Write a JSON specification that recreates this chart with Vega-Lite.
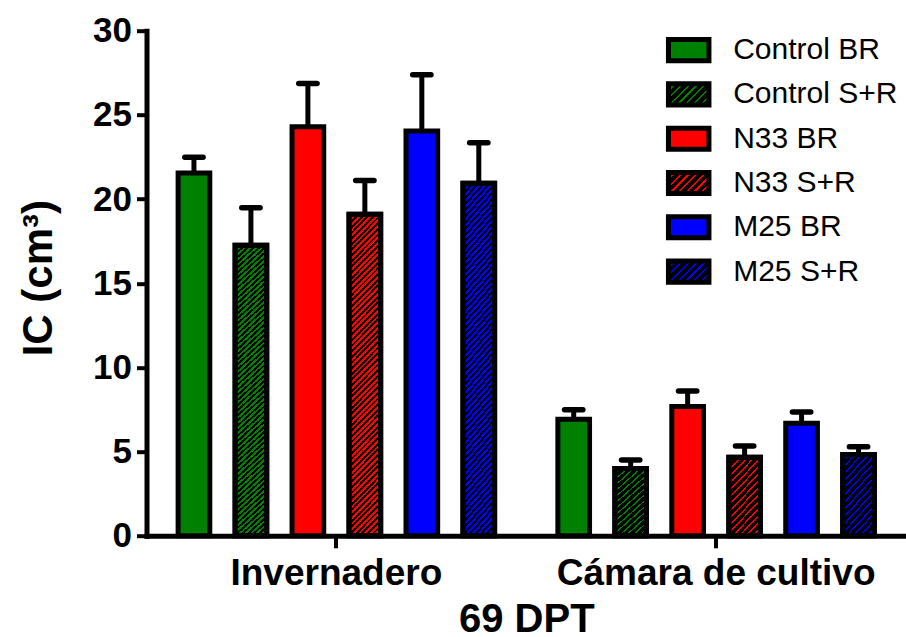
{
  "$schema": "https://vega.github.io/schema/vega-lite/v6.json",
  "width": 759.5,
  "height": 505.1,
  "autosize": "none",
  "padding": {"left": 146.5, "top": 30.7, "right": 0, "bottom": 101.2},
  "background": "white",
  "config": {
    "view": {"stroke": null},
    "font": "Liberation Sans",
    "axis": {
      "grid": false,
      "domainColor": "black",
      "domainWidth": 5,
      "domainCap": "square",
      "tickColor": "black",
      "tickWidth": 4,
      "labelFont": "Liberation Sans",
      "labelFontWeight": "bold",
      "labelColor": "black",
      "labelLimit": 500,
      "titleFont": "Liberation Sans",
      "titleFontWeight": "bold",
      "titleColor": "black"
    }
  },
  "data": {
    "values": [
      {"site": "Invernadero", "inoc": "Control", "group": "Control BR", "mean": 21.55, "hi": 22.48},
      {"site": "Invernadero", "inoc": "Control", "group": "Control S+R", "mean": 17.26, "hi": 19.48},
      {"site": "Invernadero", "inoc": "N33", "group": "N33 BR", "mean": 24.29, "hi": 26.87},
      {"site": "Invernadero", "inoc": "N33", "group": "N33 S+R", "mean": 19.1, "hi": 21.11},
      {"site": "Invernadero", "inoc": "M25", "group": "M25 BR", "mean": 24.05, "hi": 27.38},
      {"site": "Invernadero", "inoc": "M25", "group": "M25 S+R", "mean": 20.94, "hi": 23.34},
      {"site": "Cámara de cultivo", "inoc": "Control", "group": "Control BR", "mean": 6.92, "hi": 7.49},
      {"site": "Cámara de cultivo", "inoc": "Control", "group": "Control S+R", "mean": 4.0, "hi": 4.5},
      {"site": "Cámara de cultivo", "inoc": "N33", "group": "N33 BR", "mean": 7.68, "hi": 8.6},
      {"site": "Cámara de cultivo", "inoc": "N33", "group": "N33 S+R", "mean": 4.67, "hi": 5.33},
      {"site": "Cámara de cultivo", "inoc": "M25", "group": "M25 BR", "mean": 6.69, "hi": 7.35},
      {"site": "Cámara de cultivo", "inoc": "M25", "group": "M25 S+R", "mean": 4.83, "hi": 5.29}
    ]
  },
  "resolve": {"scale": {"fill": "independent"}, "legend": {"fill": "independent"}},
  "encoding": {
    "x": {
      "field": "site",
      "type": "nominal",
      "sort": ["Invernadero", "Cámara de cultivo"],
      "scale": {"paddingInner": 0, "paddingOuter": 0},
      "axis": {
        "title": "69 DPT",
        "labelAngle": 0,
        "labelFontSize": 37,
        "labelPadding": 8,
        "labelLimit": 500,
        "tickSize": 12,
        "titleFontSize": 40,
        "titlePadding": 8
      }
    },
    "xOffset": {
      "field": "group",
      "type": "nominal",
      "sort": ["Control BR", "Control S+R", "N33 BR", "N33 S+R", "M25 BR", "M25 S+R"],
      "scale": {"paddingInner": 0.444, "paddingOuter": 0.555}
    }
  },
  "layer": [
    {
      "mark": {"type": "rule", "color": "black", "strokeWidth": 5},
      "encoding": {
        "y": {
          "field": "mean",
          "type": "quantitative",
          "scale": {"domain": [0, 30], "nice": false},
          "axis": {"values": [0, 5, 10, 15, 20, 25, 30], "title": "IC (cm³)", "titleFontSize": 42, "titlePadding": 32, "titleY": 247, "labelFontSize": 35, "labelPadding": 5, "tickSize": 10}
        },
        "y2": {"field": "hi"}
      }
    },
    {
      "mark": {"type": "bar", "stroke": "black", "strokeWidth": 5},
      "encoding": {
        "y": {
          "field": "mean",
          "type": "quantitative",
          "scale": {"domain": [0, 30], "nice": false},
          "axis": {"values": [0, 5, 10, 15, 20, 25, 30], "title": "IC (cm³)", "titleFontSize": 42, "titlePadding": 32, "titleY": 247, "labelFontSize": 35, "labelPadding": 5, "tickSize": 10}
        },
        "fill": {
          "field": "inoc",
          "type": "nominal",
          "scale": {"domain": ["Control", "N33", "M25"], "range": ["#008000", "#ff0000", "#0000ff"]},
          "legend": null
        }
      }
    },
    {
      "transform": [{"filter": "indexof(datum.group, 'S+R') >= 0"}],
      "mark": {"type": "bar", "stroke": "black", "strokeWidth": 5},
      "encoding": {
        "y": {
          "field": "mean",
          "type": "quantitative",
          "scale": {"domain": [0, 30], "nice": false},
          "axis": {"values": [0, 5, 10, 15, 20, 25, 30], "title": "IC (cm³)", "titleFontSize": 42, "titlePadding": 32, "titleY": 247, "labelFontSize": 35, "labelPadding": 5, "tickSize": 10}
        },
        "fill": {
          "condition": {
            "test": "datum.site === 'Invernadero'",
            "value": {"gradient": "linear", "x1": 0, "y1": 0, "x2": 0.108, "y2": 1.088, "stops": [
              {"offset": 0, "color": "transparent"}, {"offset": 0.008, "color": "transparent"}, {"offset": 0.008, "color": "black"}, {"offset": 0.016, "color": "black"},
              {"offset": 0.016, "color": "transparent"}, {"offset": 0.024, "color": "transparent"}, {"offset": 0.024, "color": "black"}, {"offset": 0.032, "color": "black"},
              {"offset": 0.032, "color": "transparent"}, {"offset": 0.04, "color": "transparent"}, {"offset": 0.04, "color": "black"}, {"offset": 0.048, "color": "black"},
              {"offset": 0.048, "color": "transparent"}, {"offset": 0.056, "color": "transparent"}, {"offset": 0.056, "color": "black"}, {"offset": 0.064, "color": "black"},
              {"offset": 0.064, "color": "transparent"}, {"offset": 0.072, "color": "transparent"}, {"offset": 0.072, "color": "black"}, {"offset": 0.08, "color": "black"},
              {"offset": 0.08, "color": "transparent"}, {"offset": 0.088, "color": "transparent"}, {"offset": 0.088, "color": "black"}, {"offset": 0.096, "color": "black"},
              {"offset": 0.096, "color": "transparent"}, {"offset": 0.104, "color": "transparent"}, {"offset": 0.104, "color": "black"}, {"offset": 0.112, "color": "black"},
              {"offset": 0.112, "color": "transparent"}, {"offset": 0.12, "color": "transparent"}, {"offset": 0.12, "color": "black"}, {"offset": 0.128, "color": "black"},
              {"offset": 0.128, "color": "transparent"}, {"offset": 0.136, "color": "transparent"}, {"offset": 0.136, "color": "black"}, {"offset": 0.144, "color": "black"},
              {"offset": 0.144, "color": "transparent"}, {"offset": 0.152, "color": "transparent"}, {"offset": 0.152, "color": "black"}, {"offset": 0.16, "color": "black"},
              {"offset": 0.16, "color": "transparent"}, {"offset": 0.168, "color": "transparent"}, {"offset": 0.168, "color": "black"}, {"offset": 0.176, "color": "black"},
              {"offset": 0.176, "color": "transparent"}, {"offset": 0.184, "color": "transparent"}, {"offset": 0.184, "color": "black"}, {"offset": 0.192, "color": "black"},
              {"offset": 0.192, "color": "transparent"}, {"offset": 0.2, "color": "transparent"}, {"offset": 0.2, "color": "black"}, {"offset": 0.208, "color": "black"},
              {"offset": 0.208, "color": "transparent"}, {"offset": 0.216, "color": "transparent"}, {"offset": 0.216, "color": "black"}, {"offset": 0.224, "color": "black"},
              {"offset": 0.224, "color": "transparent"}, {"offset": 0.232, "color": "transparent"}, {"offset": 0.232, "color": "black"}, {"offset": 0.24, "color": "black"},
              {"offset": 0.24, "color": "transparent"}, {"offset": 0.248, "color": "transparent"}, {"offset": 0.248, "color": "black"}, {"offset": 0.256, "color": "black"},
              {"offset": 0.256, "color": "transparent"}, {"offset": 0.264, "color": "transparent"}, {"offset": 0.264, "color": "black"}, {"offset": 0.272, "color": "black"},
              {"offset": 0.272, "color": "transparent"}, {"offset": 0.28, "color": "transparent"}, {"offset": 0.28, "color": "black"}, {"offset": 0.288, "color": "black"},
              {"offset": 0.288, "color": "transparent"}, {"offset": 0.296, "color": "transparent"}, {"offset": 0.296, "color": "black"}, {"offset": 0.304, "color": "black"},
              {"offset": 0.304, "color": "transparent"}, {"offset": 0.312, "color": "transparent"}, {"offset": 0.312, "color": "black"}, {"offset": 0.32, "color": "black"},
              {"offset": 0.32, "color": "transparent"}, {"offset": 0.328, "color": "transparent"}, {"offset": 0.328, "color": "black"}, {"offset": 0.336, "color": "black"},
              {"offset": 0.336, "color": "transparent"}, {"offset": 0.344, "color": "transparent"}, {"offset": 0.344, "color": "black"}, {"offset": 0.352, "color": "black"},
              {"offset": 0.352, "color": "transparent"}, {"offset": 0.36, "color": "transparent"}, {"offset": 0.36, "color": "black"}, {"offset": 0.368, "color": "black"},
              {"offset": 0.368, "color": "transparent"}, {"offset": 0.376, "color": "transparent"}, {"offset": 0.376, "color": "black"}, {"offset": 0.384, "color": "black"},
              {"offset": 0.384, "color": "transparent"}, {"offset": 0.392, "color": "transparent"}, {"offset": 0.392, "color": "black"}, {"offset": 0.4, "color": "black"},
              {"offset": 0.4, "color": "transparent"}, {"offset": 0.408, "color": "transparent"}, {"offset": 0.408, "color": "black"}, {"offset": 0.416, "color": "black"},
              {"offset": 0.416, "color": "transparent"}, {"offset": 0.424, "color": "transparent"}, {"offset": 0.424, "color": "black"}, {"offset": 0.432, "color": "black"},
              {"offset": 0.432, "color": "transparent"}, {"offset": 0.44, "color": "transparent"}, {"offset": 0.44, "color": "black"}, {"offset": 0.448, "color": "black"},
              {"offset": 0.448, "color": "transparent"}, {"offset": 0.456, "color": "transparent"}, {"offset": 0.456, "color": "black"}, {"offset": 0.464, "color": "black"},
              {"offset": 0.464, "color": "transparent"}, {"offset": 0.472, "color": "transparent"}, {"offset": 0.472, "color": "black"}, {"offset": 0.48, "color": "black"},
              {"offset": 0.48, "color": "transparent"}, {"offset": 0.488, "color": "transparent"}, {"offset": 0.488, "color": "black"}, {"offset": 0.496, "color": "black"},
              {"offset": 0.496, "color": "transparent"}, {"offset": 0.504, "color": "transparent"}, {"offset": 0.504, "color": "black"}, {"offset": 0.512, "color": "black"},
              {"offset": 0.512, "color": "transparent"}, {"offset": 0.52, "color": "transparent"}, {"offset": 0.52, "color": "black"}, {"offset": 0.528, "color": "black"},
              {"offset": 0.528, "color": "transparent"}, {"offset": 0.536, "color": "transparent"}, {"offset": 0.536, "color": "black"}, {"offset": 0.544, "color": "black"},
              {"offset": 0.544, "color": "transparent"}, {"offset": 0.552, "color": "transparent"}, {"offset": 0.552, "color": "black"}, {"offset": 0.56, "color": "black"},
              {"offset": 0.56, "color": "transparent"}, {"offset": 0.568, "color": "transparent"}, {"offset": 0.568, "color": "black"}, {"offset": 0.576, "color": "black"},
              {"offset": 0.576, "color": "transparent"}, {"offset": 0.584, "color": "transparent"}, {"offset": 0.584, "color": "black"}, {"offset": 0.592, "color": "black"},
              {"offset": 0.592, "color": "transparent"}, {"offset": 0.6, "color": "transparent"}, {"offset": 0.6, "color": "black"}, {"offset": 0.608, "color": "black"},
              {"offset": 0.608, "color": "transparent"}, {"offset": 0.616, "color": "transparent"}, {"offset": 0.616, "color": "black"}, {"offset": 0.624, "color": "black"},
              {"offset": 0.624, "color": "transparent"}, {"offset": 0.632, "color": "transparent"}, {"offset": 0.632, "color": "black"}, {"offset": 0.64, "color": "black"},
              {"offset": 0.64, "color": "transparent"}, {"offset": 0.648, "color": "transparent"}, {"offset": 0.648, "color": "black"}, {"offset": 0.656, "color": "black"},
              {"offset": 0.656, "color": "transparent"}, {"offset": 0.664, "color": "transparent"}, {"offset": 0.664, "color": "black"}, {"offset": 0.672, "color": "black"},
              {"offset": 0.672, "color": "transparent"}, {"offset": 0.68, "color": "transparent"}, {"offset": 0.68, "color": "black"}, {"offset": 0.688, "color": "black"},
              {"offset": 0.688, "color": "transparent"}, {"offset": 0.696, "color": "transparent"}, {"offset": 0.696, "color": "black"}, {"offset": 0.704, "color": "black"},
              {"offset": 0.704, "color": "transparent"}, {"offset": 0.712, "color": "transparent"}, {"offset": 0.712, "color": "black"}, {"offset": 0.72, "color": "black"},
              {"offset": 0.72, "color": "transparent"}, {"offset": 0.728, "color": "transparent"}, {"offset": 0.728, "color": "black"}, {"offset": 0.736, "color": "black"},
              {"offset": 0.736, "color": "transparent"}, {"offset": 0.744, "color": "transparent"}, {"offset": 0.744, "color": "black"}, {"offset": 0.752, "color": "black"},
              {"offset": 0.752, "color": "transparent"}, {"offset": 0.76, "color": "transparent"}, {"offset": 0.76, "color": "black"}, {"offset": 0.768, "color": "black"},
              {"offset": 0.768, "color": "transparent"}, {"offset": 0.776, "color": "transparent"}, {"offset": 0.776, "color": "black"}, {"offset": 0.784, "color": "black"},
              {"offset": 0.784, "color": "transparent"}, {"offset": 0.792, "color": "transparent"}, {"offset": 0.792, "color": "black"}, {"offset": 0.8, "color": "black"},
              {"offset": 0.8, "color": "transparent"}, {"offset": 0.808, "color": "transparent"}, {"offset": 0.808, "color": "black"}, {"offset": 0.816, "color": "black"},
              {"offset": 0.816, "color": "transparent"}, {"offset": 0.824, "color": "transparent"}, {"offset": 0.824, "color": "black"}, {"offset": 0.832, "color": "black"},
              {"offset": 0.832, "color": "transparent"}, {"offset": 0.84, "color": "transparent"}, {"offset": 0.84, "color": "black"}, {"offset": 0.848, "color": "black"},
              {"offset": 0.848, "color": "transparent"}, {"offset": 0.856, "color": "transparent"}, {"offset": 0.856, "color": "black"}, {"offset": 0.864, "color": "black"},
              {"offset": 0.864, "color": "transparent"}, {"offset": 0.872, "color": "transparent"}, {"offset": 0.872, "color": "black"}, {"offset": 0.88, "color": "black"},
              {"offset": 0.88, "color": "transparent"}, {"offset": 0.888, "color": "transparent"}, {"offset": 0.888, "color": "black"}, {"offset": 0.896, "color": "black"},
              {"offset": 0.896, "color": "transparent"}, {"offset": 0.904, "color": "transparent"}, {"offset": 0.904, "color": "black"}, {"offset": 0.912, "color": "black"},
              {"offset": 0.912, "color": "transparent"}, {"offset": 0.92, "color": "transparent"}, {"offset": 0.92, "color": "black"}, {"offset": 0.928, "color": "black"},
              {"offset": 0.928, "color": "transparent"}, {"offset": 0.936, "color": "transparent"}, {"offset": 0.936, "color": "black"}, {"offset": 0.944, "color": "black"},
              {"offset": 0.944, "color": "transparent"}, {"offset": 0.952, "color": "transparent"}, {"offset": 0.952, "color": "black"}, {"offset": 0.96, "color": "black"},
              {"offset": 0.96, "color": "transparent"}, {"offset": 0.968, "color": "transparent"}, {"offset": 0.968, "color": "black"}, {"offset": 0.976, "color": "black"},
              {"offset": 0.976, "color": "transparent"}, {"offset": 0.984, "color": "transparent"}, {"offset": 0.984, "color": "black"}, {"offset": 0.992, "color": "black"},
              {"offset": 0.992, "color": "transparent"}, {"offset": 1, "color": "transparent"}
            ]}
          },
          "value": {"gradient": "linear", "x1": 0, "y1": 0, "x2": 0.508, "y2": 1.206, "stops": [
            {"offset": 0, "color": "black"}, {"offset": 0.045, "color": "black"}, {"offset": 0.045, "color": "transparent"}, {"offset": 0.0625, "color": "transparent"},
            {"offset": 0.0625, "color": "black"}, {"offset": 0.1075, "color": "black"}, {"offset": 0.1075, "color": "transparent"}, {"offset": 0.125, "color": "transparent"},
            {"offset": 0.125, "color": "black"}, {"offset": 0.17, "color": "black"}, {"offset": 0.17, "color": "transparent"}, {"offset": 0.1875, "color": "transparent"},
            {"offset": 0.1875, "color": "black"}, {"offset": 0.2325, "color": "black"}, {"offset": 0.2325, "color": "transparent"}, {"offset": 0.25, "color": "transparent"},
            {"offset": 0.25, "color": "black"}, {"offset": 0.295, "color": "black"}, {"offset": 0.295, "color": "transparent"}, {"offset": 0.3125, "color": "transparent"},
            {"offset": 0.3125, "color": "black"}, {"offset": 0.3575, "color": "black"}, {"offset": 0.3575, "color": "transparent"}, {"offset": 0.375, "color": "transparent"},
            {"offset": 0.375, "color": "black"}, {"offset": 0.42, "color": "black"}, {"offset": 0.42, "color": "transparent"}, {"offset": 0.4375, "color": "transparent"},
            {"offset": 0.4375, "color": "black"}, {"offset": 0.4825, "color": "black"}, {"offset": 0.4825, "color": "transparent"}, {"offset": 0.5, "color": "transparent"},
            {"offset": 0.5, "color": "black"}, {"offset": 0.545, "color": "black"}, {"offset": 0.545, "color": "transparent"}, {"offset": 0.5625, "color": "transparent"},
            {"offset": 0.5625, "color": "black"}, {"offset": 0.6075, "color": "black"}, {"offset": 0.6075, "color": "transparent"}, {"offset": 0.625, "color": "transparent"},
            {"offset": 0.625, "color": "black"}, {"offset": 0.67, "color": "black"}, {"offset": 0.67, "color": "transparent"}, {"offset": 0.6875, "color": "transparent"},
            {"offset": 0.6875, "color": "black"}, {"offset": 0.7325, "color": "black"}, {"offset": 0.7325, "color": "transparent"}, {"offset": 0.75, "color": "transparent"},
            {"offset": 0.75, "color": "black"}, {"offset": 0.795, "color": "black"}, {"offset": 0.795, "color": "transparent"}, {"offset": 0.8125, "color": "transparent"},
            {"offset": 0.8125, "color": "black"}, {"offset": 0.8575, "color": "black"}, {"offset": 0.8575, "color": "transparent"}, {"offset": 0.875, "color": "transparent"},
            {"offset": 0.875, "color": "black"}, {"offset": 0.92, "color": "black"}, {"offset": 0.92, "color": "transparent"}, {"offset": 0.9375, "color": "transparent"},
            {"offset": 0.9375, "color": "black"}, {"offset": 0.9825, "color": "black"}, {"offset": 0.9825, "color": "transparent"}, {"offset": 1, "color": "transparent"}
          ]}
        }
      }
    },
    {
      "mark": {"type": "point", "shape": "M-1,0H1", "size": 335, "filled": false, "stroke": "black", "strokeWidth": 5.5, "strokeCap": "round", "opacity": 1},
      "encoding": {
        "y": {
          "field": "hi",
          "type": "quantitative",
          "scale": {"domain": [0, 30], "nice": false},
          "axis": {"values": [0, 5, 10, 15, 20, 25, 30], "title": "IC (cm³)", "titleFontSize": 42, "titlePadding": 32, "titleY": 247, "labelFontSize": 35, "labelPadding": 5, "tickSize": 10}
        }
      }
    },
    {
      "transform": [{"filter": "false"}],
      "mark": {"type": "bar", "stroke": "black", "strokeWidth": 5},
      "encoding": {
        "y": {
          "field": "mean",
          "type": "quantitative",
          "scale": {"domain": [0, 30], "nice": false},
          "axis": {"values": [0, 5, 10, 15, 20, 25, 30], "title": "IC (cm³)", "titleFontSize": 42, "titlePadding": 32, "titleY": 247, "labelFontSize": 35, "labelPadding": 5, "tickSize": 10}
        },
        "fill": {
          "field": "group",
          "type": "nominal",
          "scale": {
            "domain": ["Control BR", "Control S+R", "N33 BR", "N33 S+R", "M25 BR", "M25 S+R"],
            "range": [
              "#008000",
              {"signal": "{gradient: 'linear', x1: 0, y1: 0, x2: 1.197, y2: 0.622, stops: [{offset: 0, color: 'black'}, {offset: 0.09, color: 'black'}, {offset: 0.09, color: '#008000'}, {offset: 0.125, color: '#008000'}, {offset: 0.125, color: 'black'}, {offset: 0.215, color: 'black'}, {offset: 0.215, color: '#008000'}, {offset: 0.25, color: '#008000'}, {offset: 0.25, color: 'black'}, {offset: 0.34, color: 'black'}, {offset: 0.34, color: '#008000'}, {offset: 0.375, color: '#008000'}, {offset: 0.375, color: 'black'}, {offset: 0.465, color: 'black'}, {offset: 0.465, color: '#008000'}, {offset: 0.5, color: '#008000'}, {offset: 0.5, color: 'black'}, {offset: 0.59, color: 'black'}, {offset: 0.59, color: '#008000'}, {offset: 0.625, color: '#008000'}, {offset: 0.625, color: 'black'}, {offset: 0.715, color: 'black'}, {offset: 0.715, color: '#008000'}, {offset: 0.75, color: '#008000'}, {offset: 0.75, color: 'black'}, {offset: 0.84, color: 'black'}, {offset: 0.84, color: '#008000'}, {offset: 0.875, color: '#008000'}, {offset: 0.875, color: 'black'}, {offset: 0.965, color: 'black'}, {offset: 0.965, color: '#008000'}, {offset: 1, color: '#008000'}]}"},
              "#ff0000",
              {"signal": "{gradient: 'linear', x1: 0, y1: 0, x2: 1.197, y2: 0.622, stops: [{offset: 0, color: 'black'}, {offset: 0.09, color: 'black'}, {offset: 0.09, color: '#ff0000'}, {offset: 0.125, color: '#ff0000'}, {offset: 0.125, color: 'black'}, {offset: 0.215, color: 'black'}, {offset: 0.215, color: '#ff0000'}, {offset: 0.25, color: '#ff0000'}, {offset: 0.25, color: 'black'}, {offset: 0.34, color: 'black'}, {offset: 0.34, color: '#ff0000'}, {offset: 0.375, color: '#ff0000'}, {offset: 0.375, color: 'black'}, {offset: 0.465, color: 'black'}, {offset: 0.465, color: '#ff0000'}, {offset: 0.5, color: '#ff0000'}, {offset: 0.5, color: 'black'}, {offset: 0.59, color: 'black'}, {offset: 0.59, color: '#ff0000'}, {offset: 0.625, color: '#ff0000'}, {offset: 0.625, color: 'black'}, {offset: 0.715, color: 'black'}, {offset: 0.715, color: '#ff0000'}, {offset: 0.75, color: '#ff0000'}, {offset: 0.75, color: 'black'}, {offset: 0.84, color: 'black'}, {offset: 0.84, color: '#ff0000'}, {offset: 0.875, color: '#ff0000'}, {offset: 0.875, color: 'black'}, {offset: 0.965, color: 'black'}, {offset: 0.965, color: '#ff0000'}, {offset: 1, color: '#ff0000'}]}"},
              "#0000ff",
              {"signal": "{gradient: 'linear', x1: 0, y1: 0, x2: 1.197, y2: 0.622, stops: [{offset: 0, color: 'black'}, {offset: 0.09, color: 'black'}, {offset: 0.09, color: '#0000ff'}, {offset: 0.125, color: '#0000ff'}, {offset: 0.125, color: 'black'}, {offset: 0.215, color: 'black'}, {offset: 0.215, color: '#0000ff'}, {offset: 0.25, color: '#0000ff'}, {offset: 0.25, color: 'black'}, {offset: 0.34, color: 'black'}, {offset: 0.34, color: '#0000ff'}, {offset: 0.375, color: '#0000ff'}, {offset: 0.375, color: 'black'}, {offset: 0.465, color: 'black'}, {offset: 0.465, color: '#0000ff'}, {offset: 0.5, color: '#0000ff'}, {offset: 0.5, color: 'black'}, {offset: 0.59, color: 'black'}, {offset: 0.59, color: '#0000ff'}, {offset: 0.625, color: '#0000ff'}, {offset: 0.625, color: 'black'}, {offset: 0.715, color: 'black'}, {offset: 0.715, color: '#0000ff'}, {offset: 0.75, color: '#0000ff'}, {offset: 0.75, color: 'black'}, {offset: 0.84, color: 'black'}, {offset: 0.84, color: '#0000ff'}, {offset: 0.875, color: '#0000ff'}, {offset: 0.875, color: 'black'}, {offset: 0.965, color: 'black'}, {offset: 0.965, color: '#0000ff'}, {offset: 1, color: '#0000ff'}]}"}
            ]
          },
          "legend": {
            "orient": "none",
            "legendX": 519.2,
            "legendY": -3.6,
            "title": null,
            "padding": 0,
            "symbolType": "M-1,-0.52H1V0.52H-1Z",
            "symbolSize": 1640,
            "symbolStrokeWidth": 5,
            "symbolStrokeColor": "black",
            "symbolOpacity": 1,
            "labelFont": "Liberation Sans",
            "labelFontSize": 30,
            "labelFontWeight": "normal",
            "labelColor": "black",
            "labelOffset": 21.5,
            "labelLimit": 400,
            "rowPadding": 0.3
          }
        }
      }
    }
  ]
}
